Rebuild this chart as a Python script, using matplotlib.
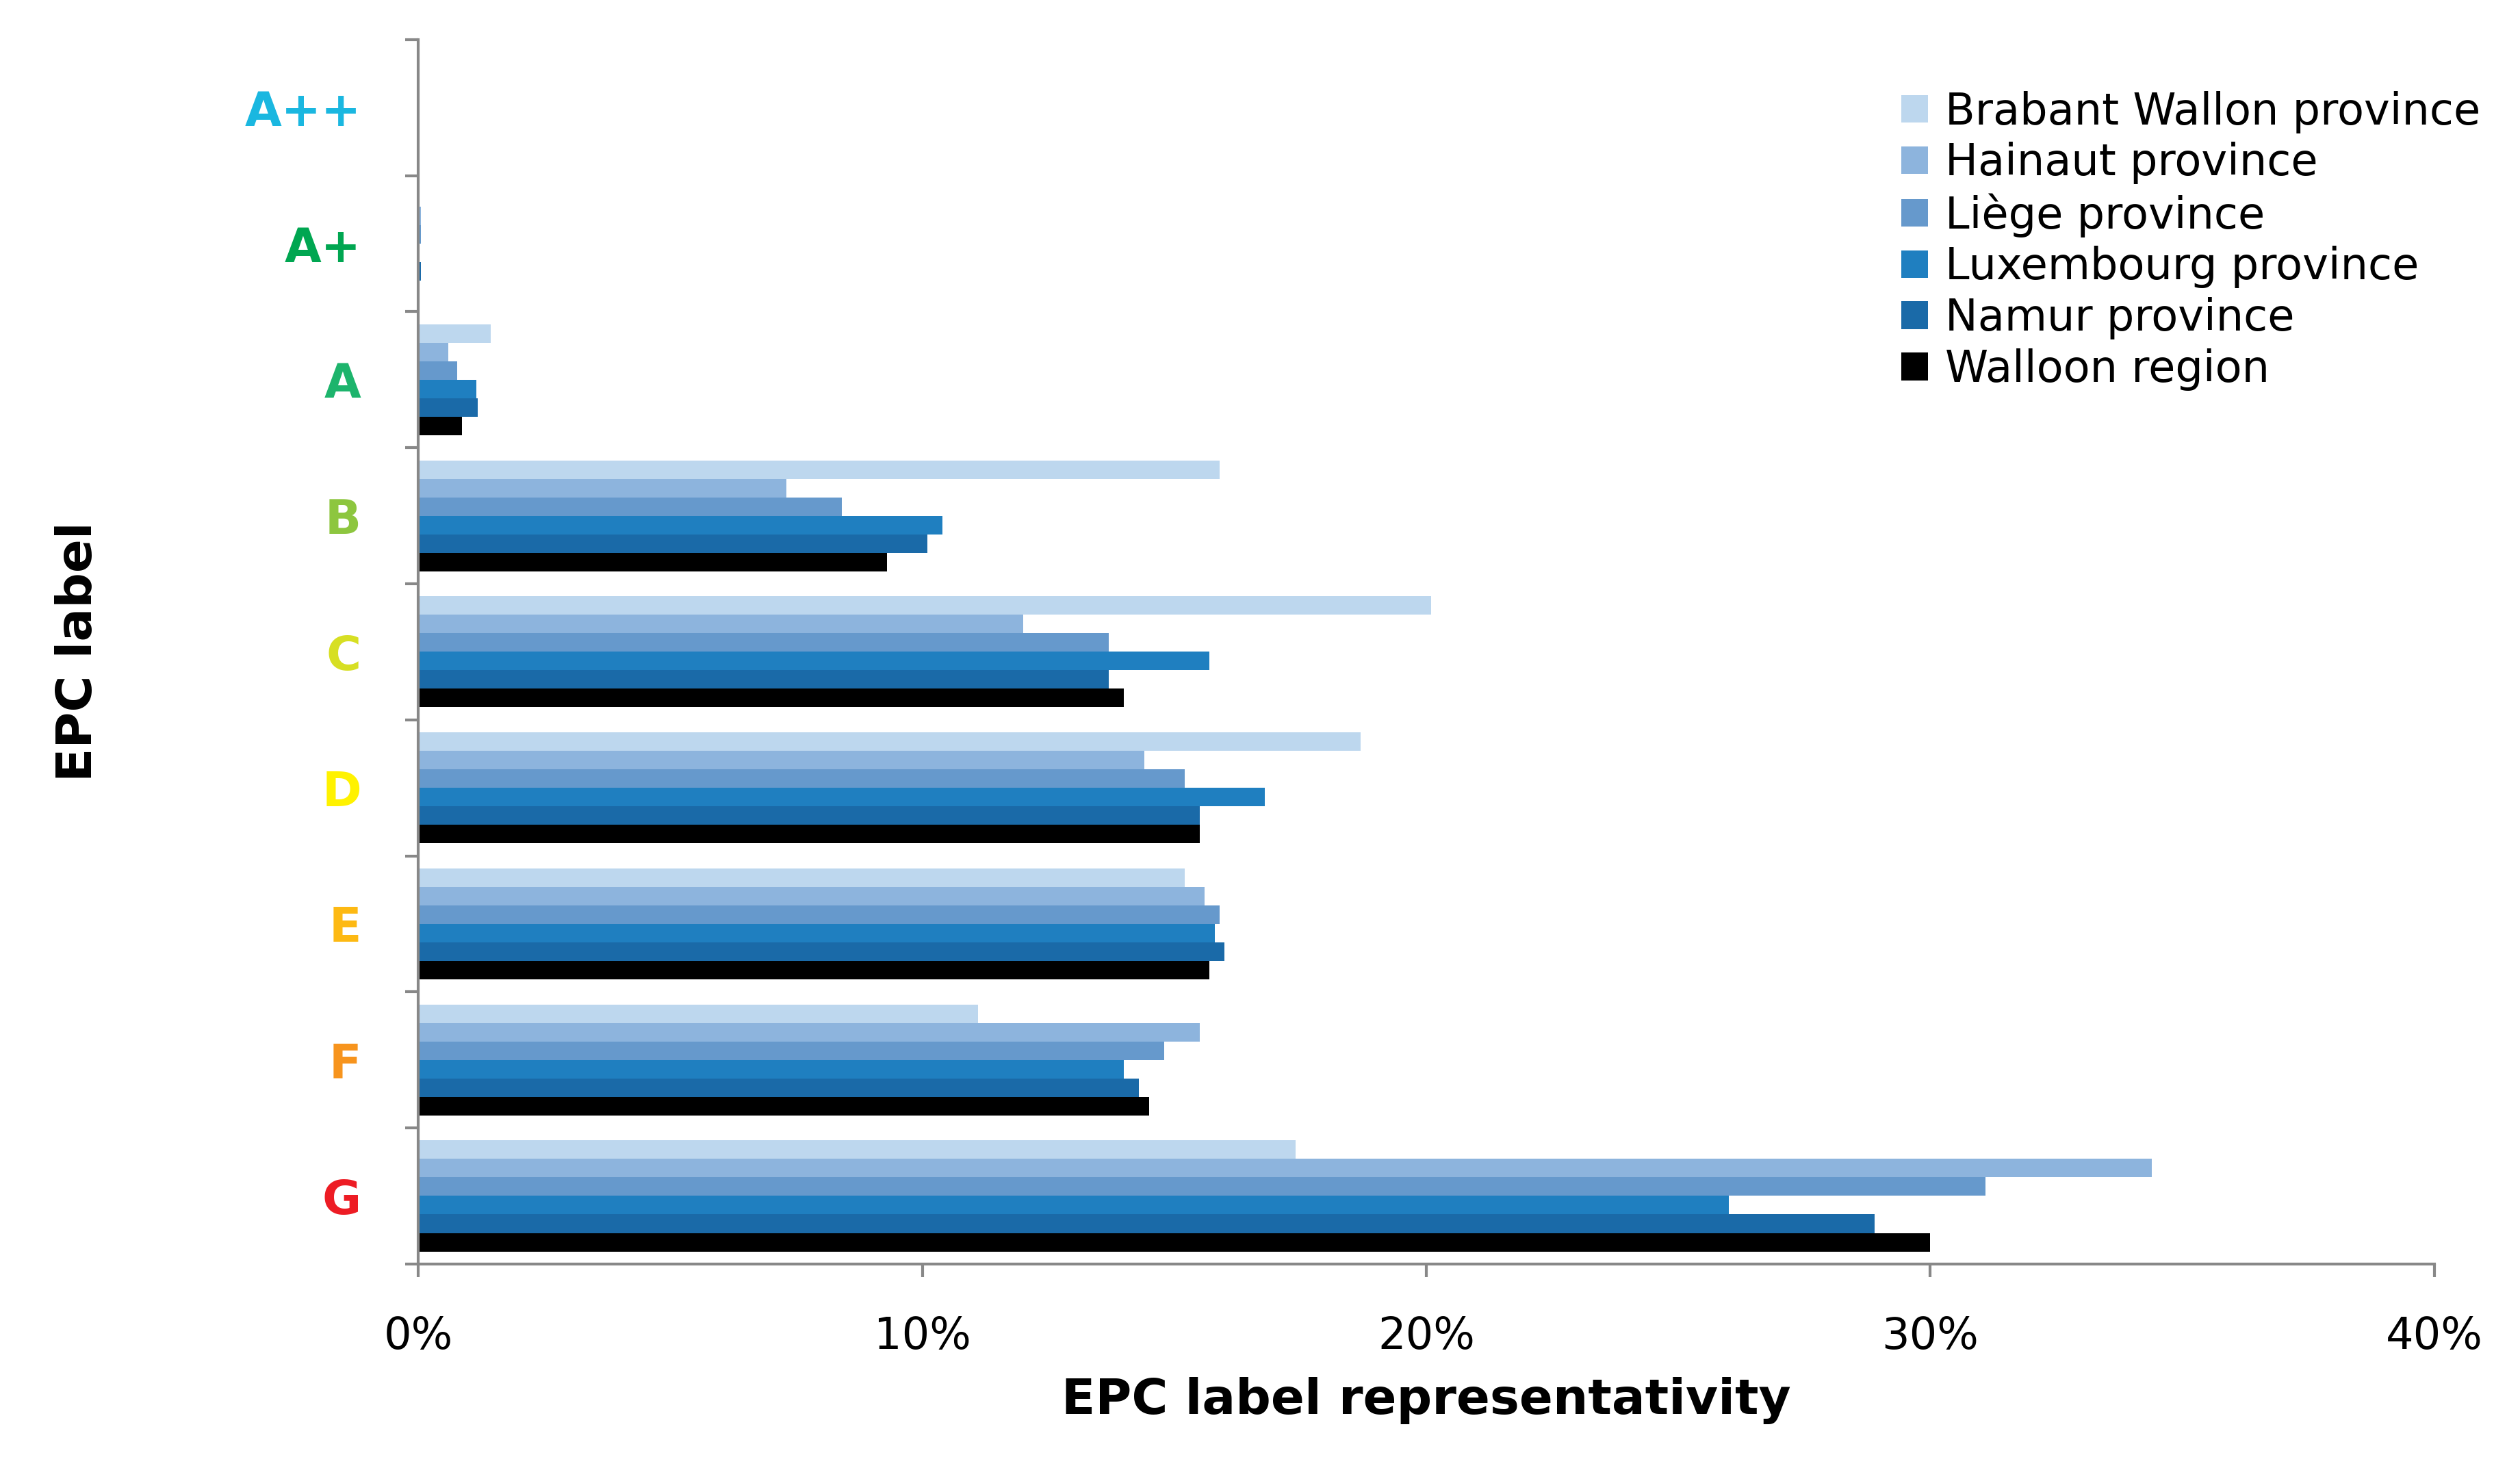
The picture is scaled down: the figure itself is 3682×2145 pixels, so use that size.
import numpy as np
import matplotlib
matplotlib.use("Agg")
from matplotlib import pyplot as plt

labels = ["A++", "A+", "A", "B", "C", "D", "E", "F", "G"]
label_colors = ["#1ab7e0", "#00a651", "#1db46c", "#8dc63f", "#d7df23",
                "#fff200", "#fdb913", "#f7941d", "#ed1c24"]

series_names = ["Brabant Wallon province", "Hainaut province", "Liège province",
                "Luxembourg province", "Namur province", "Walloon region"]
series_colors = ["#bdd7ee", "#8db4dd", "#6699cc", "#1f7fc0", "#1a6aa8", "#000000"]

brabant = [0.0, 0.0, 1.44, 15.9, 20.1, 18.7, 15.2, 11.1, 17.4]
hainaut = [0.0, 0.05, 0.6, 7.3, 12.0, 14.4, 15.6, 15.5, 34.4]
liege = [0.0, 0.05, 0.77, 8.4, 13.7, 15.2, 15.9, 14.8, 31.1]
luxembourg = [0.0, 0.03, 1.15, 10.4, 15.7, 16.8, 15.8, 14.0, 26.0]
namur = [0.0, 0.05, 1.18, 10.1, 13.7, 15.5, 16.0, 14.3, 28.9]
walloon = [0.0, 0.03, 0.86, 9.3, 14.0, 15.5, 15.7, 14.5, 30.0]
series = [brabant, hainaut, liege, luxembourg, namur, walloon]

fig = plt.figure(figsize=(36.82, 21.45), dpi=100)
ax = fig.add_axes([0.166, 0.139, 0.8, 0.834])

y = np.arange(len(labels))
h = 0.136
for i, (vals, name, col) in enumerate(zip(series, series_names, series_colors)):
    ax.barh(y + (i - 2.5) * h, vals, height=h, color=col, label=name)

ax.set_ylim(len(labels) - 0.5, -0.5)
ax.set_xlim(0, 40)
ax.set_yticks(y)
ax.set_yticklabels(labels, fontsize=50, fontweight="bold")
for t, c in zip(ax.get_yticklabels(), label_colors):
    t.set_color(c)
ax.tick_params(axis="y", which="major", length=0, pad=60)
ax.set_yticks(np.arange(-0.5, len(labels)), minor=True)
ax.tick_params(axis="y", which="minor", length=14, width=3, color="#888888")
ax.set_xticks([0, 10, 20, 30, 40])
ax.set_xticklabels(["0%", "10%", "20%", "30%", "40%"], fontsize=46)
ax.tick_params(axis="x", length=14, width=3, color="#888888", pad=40)

for s in ["top", "right"]:
    ax.spines[s].set_visible(False)
for s in ["left", "bottom"]:
    ax.spines[s].set_color("#888888")
    ax.spines[s].set_linewidth(3)

ax.set_xlabel("EPC label representativity", fontsize=52, fontweight="bold", labelpad=20)
ax.set_ylabel("EPC label", fontsize=52, fontweight="bold", labelpad=150)

fig.legend(loc="upper right", bbox_to_anchor=(1.0, 0.965), fontsize=46, frameon=False,
           handlelength=0.6, handleheight=0.6, handletextpad=0.4, labelspacing=0.2)

fig.savefig("out.png", dpi=100)
